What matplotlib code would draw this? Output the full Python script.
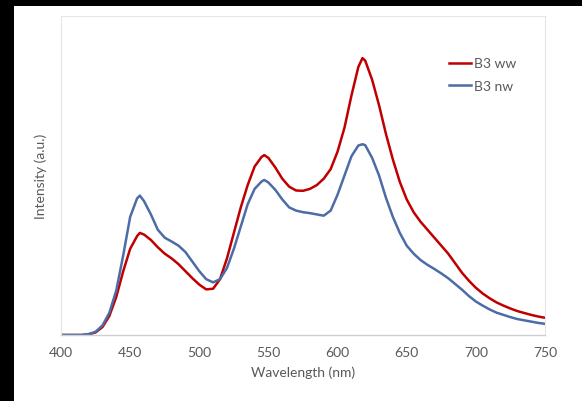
import matplotlib
matplotlib.use("Agg")
import matplotlib.pyplot as plt
from matplotlib.patches import Rectangle

wavelength = [400, 405, 410, 415, 420, 425, 430, 435, 440, 445, 450, 455, 457, 460, 465, 470,
              475, 480, 485, 490, 495, 500, 505, 510, 515, 520, 525, 530, 535, 540, 545, 547,
              550, 555, 560, 565, 570, 575, 580, 585, 590, 595, 600, 605, 610, 615, 618,
              620, 625, 630, 635, 640, 645, 650, 655, 660, 665, 670, 675, 680, 685, 690,
              695, 700, 705, 710, 715, 720, 725, 730, 735, 740, 745, 750]

b3_ww = [0.0, 0.0, 0.0, 0.0, 0.002, 0.008, 0.025, 0.06, 0.12, 0.2, 0.27, 0.31, 0.32, 0.315, 0.298, 0.275,
         0.255, 0.24, 0.222, 0.2, 0.178, 0.158, 0.143, 0.145, 0.175, 0.24, 0.32, 0.4, 0.47, 0.528, 0.558, 0.564,
         0.555, 0.525, 0.49, 0.465, 0.453, 0.452, 0.458, 0.47, 0.49, 0.52, 0.575, 0.65, 0.75, 0.84, 0.868,
         0.86, 0.8, 0.72, 0.63, 0.55, 0.48, 0.425, 0.385, 0.355, 0.33, 0.305, 0.28, 0.255, 0.225, 0.195,
         0.17, 0.148, 0.13, 0.115, 0.102, 0.092, 0.083, 0.075, 0.069, 0.063, 0.058, 0.054]

b3_nw = [0.0, 0.0, 0.0, 0.0, 0.003, 0.01, 0.03, 0.07, 0.14, 0.25, 0.37, 0.428, 0.437, 0.42, 0.378, 0.33,
         0.305, 0.293, 0.28, 0.26, 0.23, 0.2, 0.175, 0.165, 0.175, 0.21, 0.27, 0.34, 0.41, 0.458, 0.481, 0.486,
         0.478, 0.455, 0.425, 0.4, 0.39, 0.385, 0.382, 0.378, 0.374, 0.39, 0.44, 0.5, 0.56, 0.594, 0.598,
         0.595, 0.555, 0.5, 0.43, 0.37, 0.32, 0.28, 0.255, 0.235, 0.22, 0.207, 0.193, 0.178, 0.16, 0.142,
         0.122, 0.105, 0.092, 0.08, 0.07, 0.063, 0.056, 0.05, 0.046, 0.042, 0.038, 0.035]

series_names = ["B3 ww", "B3 nw"]
x_ticks = [400, 450, 500, 550, 600, 650, 700, 750]

W, H = 582, 402
fig = plt.figure(figsize=(W / 100, H / 100), dpi=100, facecolor="black")
fig.patches.append(Rectangle((14 / W, 0), 1 - 14 / W, 1 - 7 / H, transform=fig.transFigure,
                             facecolor="white", edgecolor="none", zorder=-10))

ax = fig.add_axes([61 / W, 1 - 336 / H, (545 - 61) / W, (336 - 17) / H])
ax.set_facecolor("white")
ax.plot(wavelength, b3_ww, color="#C00000", lw=1.8, label=series_names[0], solid_joinstyle="round")
ax.plot(wavelength, b3_nw, color="#4B6CA6", lw=1.8, label=series_names[1], solid_joinstyle="round")

ax.set_xlim(400, 750)
ax.set_ylim(0, 1.0)
ax.set_xticks(x_ticks)
ax.set_yticks([])
ax.tick_params(axis="x", length=0, pad=8, labelsize=10, labelcolor="#595959")
for lab in ax.get_xticklabels():
    lab.set_fontfamily("Lato")
for s in ["top", "right", "left"]:
    ax.spines[s].set_color("#e6e6e6")
    ax.spines[s].set_linewidth(0.8)
ax.spines["bottom"].set_color("#d0d0d0")
ax.spines["bottom"].set_linewidth(1.0)

ax.set_xlabel("Wavelength (nm)", fontsize=10, color="#595959", family="Lato", labelpad=5)
ax.set_ylabel("Intensity (a.u.)", fontsize=10, color="#595959", family="Lato", labelpad=10)

leg = ax.legend(loc="upper left", bbox_to_anchor=(436 / W, 1 - 46 / H), bbox_transform=fig.transFigure,
                frameon=False, handlelength=1.6, handletextpad=0.25, labelspacing=0.75,
                prop={"family": "Lato", "size": 10})
for t in leg.get_texts():
    t.set_color("#595959")

fig.savefig("out.png", dpi=100, facecolor=fig.get_facecolor())
